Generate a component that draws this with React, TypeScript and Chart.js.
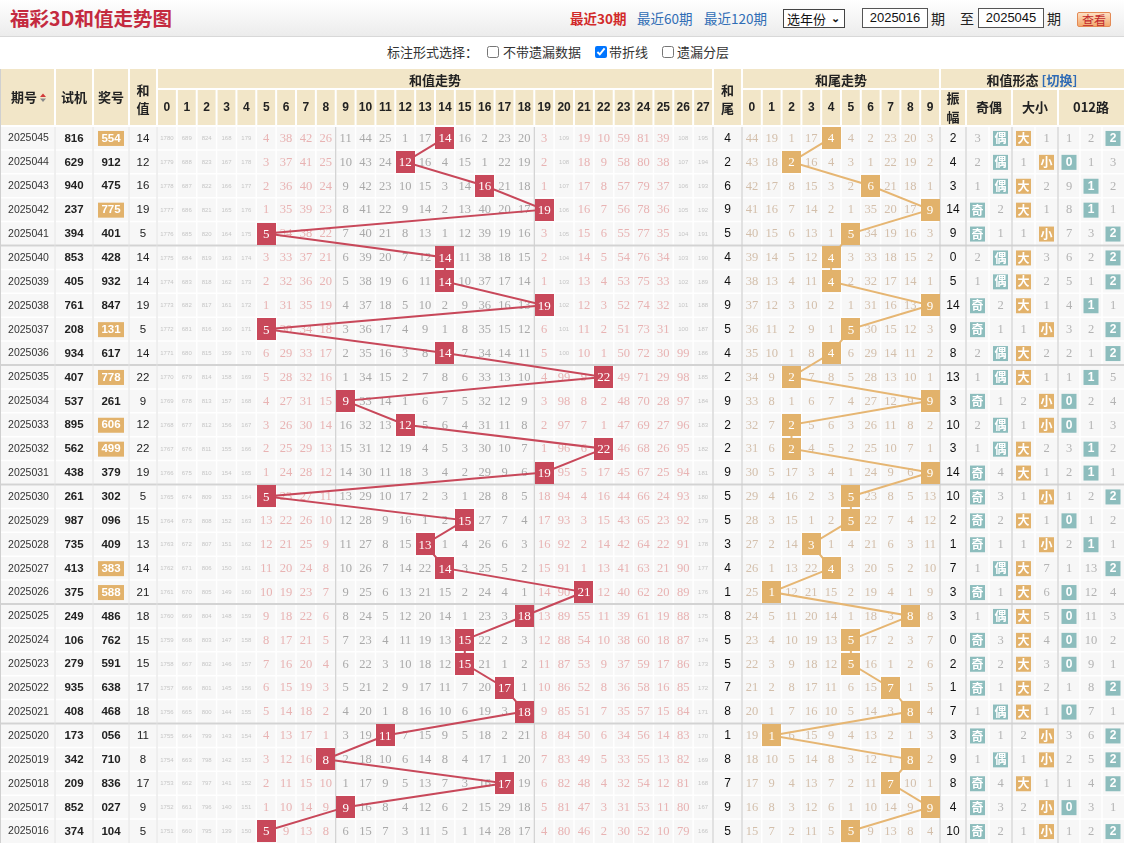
import React, { useEffect, useRef } from "react";
import { Chart, registerables } from "chart.js";

Chart.register(...registerables);

// ---------------- data ----------------
const ISSUES = ["2025045","2025044","2025043","2025042","2025041","2025040","2025039","2025038","2025037","2025036","2025035","2025034","2025033","2025032","2025031","2025030","2025029","2025028","2025027","2025026","2025025","2025024","2025023","2025022","2025021","2025020","2025019","2025018","2025017","2025016"];
const TRIAL_NUMBERS = ["816","629","940","237","394","853","405","761","208","934","407","537","895","562","438","261","987","735","413","375","249","106","279","935","408","173","342","209","852","374"];
const DRAW_NUMBERS = ["554","912","475","775","401","428","932","847","131","617","778","261","606","499","379","302","096","409","383","588","486","762","591","638","468","056","710","836","027","104"];
const SUM_VALUES = [14,12,16,19,5,14,14,19,5,14,22,9,12,22,19,5,15,13,14,21,18,15,15,17,18,11,8,17,9,5];
const SUM_TAILS = [4,2,6,9,5,4,4,9,5,4,2,9,2,2,9,5,5,3,4,1,8,5,5,7,8,1,8,7,9,5];
const AMPLITUDES = [2,4,3,14,9,0,5,14,9,8,13,3,10,3,14,10,2,1,7,3,3,0,2,1,7,3,9,8,4,10];
const SUM_TICKS = ["0","1","2","3","4","5","6","7","8","9","10","11","12","13","14","15","16","17","18","19","20","21","22","23","24","25","26","27"];
const TAIL_TICKS = ["0","1","2","3","4","5","6","7","8","9"];

// omission (遗漏) values per row, 0 = hit
const SUM_MISS = [
  "1780 689 824 168 179 4 38 42 26 11 44 25 1 17 0 16 2 23 20 3 109 19 10 59 81 39 108 195",
  "1779 688 823 167 178 3 37 41 25 10 43 24 0 16 4 15 1 22 19 2 108 18 9 58 80 38 107 194",
  "1778 687 822 166 177 2 36 40 24 9 42 23 10 15 3 14 0 21 18 1 107 17 8 57 79 37 106 193",
  "1777 686 821 165 176 1 35 39 23 8 41 22 9 14 2 13 40 20 17 0 106 16 7 56 78 36 105 192",
  "1776 685 820 164 175 0 34 38 22 7 40 21 8 13 1 12 39 19 16 3 105 15 6 55 77 35 104 191",
  "1775 684 819 163 174 3 33 37 21 6 39 20 7 12 0 11 38 18 15 2 104 14 5 54 76 34 103 190",
  "1774 683 818 162 173 2 32 36 20 5 38 19 6 11 0 10 37 17 14 1 103 13 4 53 75 33 102 189",
  "1773 682 817 161 172 1 31 35 19 4 37 18 5 10 2 9 36 16 13 0 102 12 3 52 74 32 101 188",
  "1772 681 816 160 171 0 30 34 18 3 36 17 4 9 1 8 35 15 12 6 101 11 2 51 73 31 100 187",
  "1771 680 815 159 170 6 29 33 17 2 35 16 3 8 0 7 34 14 11 5 100 10 1 50 72 30 99 186",
  "1770 679 814 158 169 5 28 32 16 1 34 15 2 7 8 6 33 13 10 4 99 9 0 49 71 29 98 185",
  "1769 678 813 157 168 4 27 31 15 0 33 14 1 6 7 5 32 12 9 3 98 8 2 48 70 28 97 184",
  "1768 677 812 156 167 3 26 30 14 16 32 13 0 5 6 4 31 11 8 2 97 7 1 47 69 27 96 183",
  "1767 676 811 155 166 2 25 29 13 15 31 12 19 4 5 3 30 10 7 1 96 6 0 46 68 26 95 182",
  "1766 675 810 154 165 1 24 28 12 14 30 11 18 3 4 2 29 9 6 0 95 5 17 45 67 25 94 181",
  "1765 674 809 153 164 0 23 27 11 13 29 10 17 2 3 1 28 8 5 18 94 4 16 44 66 24 93 180",
  "1764 673 808 152 163 13 22 26 10 12 28 9 16 1 2 0 27 7 4 17 93 3 15 43 65 23 92 179",
  "1763 672 807 151 162 12 21 25 9 11 27 8 15 0 1 4 26 6 3 16 92 2 14 42 64 22 91 178",
  "1762 671 806 150 161 11 20 24 8 10 26 7 14 22 0 3 25 5 2 15 91 1 13 41 63 21 90 177",
  "1761 670 805 149 160 10 19 23 7 9 25 6 13 21 15 2 24 4 1 14 90 0 12 40 62 20 89 176",
  "1760 669 804 148 159 9 18 22 6 8 24 5 12 20 14 1 23 3 0 13 89 55 11 39 61 19 88 175",
  "1759 668 803 147 158 8 17 21 5 7 23 4 11 19 13 0 22 2 3 12 88 54 10 38 60 18 87 174",
  "1758 667 802 146 157 7 16 20 4 6 22 3 10 18 12 0 21 1 2 11 87 53 9 37 59 17 86 173",
  "1757 666 801 145 156 6 15 19 3 5 21 2 9 17 11 7 20 0 1 10 86 52 8 36 58 16 85 172",
  "1756 665 800 144 155 5 14 18 2 4 20 1 8 16 10 6 19 3 0 9 85 51 7 35 57 15 84 171",
  "1755 664 799 143 154 4 13 17 1 3 19 0 7 15 9 5 18 2 21 8 84 50 6 34 56 14 83 170",
  "1754 663 798 142 153 3 12 16 0 2 18 10 6 14 8 4 17 1 20 7 83 49 5 33 55 13 82 169",
  "1753 662 797 141 152 2 11 15 10 1 17 9 5 13 7 3 16 0 19 6 82 48 4 32 54 12 81 168",
  "1752 661 796 140 151 1 10 14 9 0 16 8 4 12 6 2 15 29 18 5 81 47 3 31 53 11 80 167",
  "1751 660 795 139 150 0 9 13 8 6 15 7 3 11 5 1 14 28 17 4 80 46 2 30 52 10 79 166",
];
const TAIL_MISS = [
  "44 19 1 17 0 4 2 23 20 3",
  "43 18 0 16 4 3 1 22 19 2",
  "42 17 8 15 3 2 0 21 18 1",
  "41 16 7 14 2 1 35 20 17 0",
  "40 15 6 13 1 0 34 19 16 3",
  "39 14 5 12 0 3 33 18 15 2",
  "38 13 4 11 0 2 32 17 14 1",
  "37 12 3 10 2 1 31 16 13 0",
  "36 11 2 9 1 0 30 15 12 3",
  "35 10 1 8 0 6 29 14 11 2",
  "34 9 0 7 8 5 28 13 10 1",
  "33 8 1 6 7 4 27 12 9 0",
  "32 7 0 5 6 3 26 11 8 2",
  "31 6 0 4 5 2 25 10 7 1",
  "30 5 17 3 4 1 24 9 6 0",
  "29 4 16 2 3 0 23 8 5 13",
  "28 3 15 1 2 0 22 7 4 12",
  "27 2 14 0 1 4 21 6 3 11",
  "26 1 13 22 0 3 20 5 2 10",
  "25 0 12 21 15 2 19 4 1 9",
  "24 5 11 20 14 1 18 3 0 8",
  "23 4 10 19 13 0 17 2 3 7",
  "22 3 9 18 12 0 16 1 2 6",
  "21 2 8 17 11 6 15 0 1 5",
  "20 1 7 16 10 5 14 3 0 4",
  "19 0 6 15 9 4 13 2 1 3",
  "18 10 5 14 8 3 12 1 0 2",
  "17 9 4 13 7 2 11 0 10 1",
  "16 8 3 12 6 1 10 14 9 0",
  "15 7 2 11 5 0 9 13 8 4",
];
const ODD_MISS = [3,2,1,0,0,2,1,0,0,2,1,0,2,1,0,0,0,0,1,0,1,0,0,0,1,0,1,0,0,0];
const EVEN_MISS = [0,0,0,2,1,0,0,2,1,0,0,1,0,0,4,3,2,1,0,1,0,3,2,1,0,1,0,4,3,2];
const BIG_MISS = [0,1,0,0,1,0,0,0,1,0,0,2,1,0,0,1,0,1,0,0,0,0,0,0,0,2,1,0,2,1];
const SMALL_MISS = [1,0,2,1,0,3,2,1,0,2,1,0,0,2,1,0,1,0,7,6,5,4,3,2,1,0,0,1,0,0];
const MOD0_MISS = [1,0,9,8,7,6,5,4,3,2,1,0,0,3,2,1,0,2,1,0,0,0,0,1,0,3,2,1,0,1];
const MOD1_MISS = [2,1,0,0,3,2,1,0,2,1,0,2,1,0,0,2,1,0,13,12,11,10,9,8,7,6,5,4,3,2];
const MOD2_MISS = [0,3,2,1,0,0,0,1,0,0,5,4,3,2,1,0,2,1,0,4,3,2,1,0,1,0,0,0,1,0];
const SHAPE_LABELS = ["奇","偶","大","小","0","1","2"];

// ---------------- layout / style ----------------
const PAGE_W = 1124;
const CANVAS_TOP = 69;
const CANVAS_H = 774;
const HEAD_SPLIT = 20;
const HEAD_H = 57;
const SUM_LEFT = 157;
const SUM_W = 556;
const TAIL_LEFT = 742;
const TAIL_W = 198;
const SUM_COLOR = "#c8485a";
const TAIL_COLOR = "#e2b26b";
const TEAL = "#8dbdbd";
const HEADER_BG = "#f2e6c8";
const CELL_BG = "#f7f7f7";
const FONT_CN = '"Noto Sans CJK SC", "Noto Sans", sans-serif';
const FONT_SANS = '"Liberation Sans", Arial, sans-serif';
const FONT_SERIF = '"Liberation Serif", "Times New Roman", serif';

const parseRows = (rows: string[]) => rows.map((r) => r.trim().split(/\s+/).map(Number));
const SUM_MISS_TABLE = parseRows(SUM_MISS);
const TAIL_MISS_TABLE = parseRows(TAIL_MISS);
const SHAPE_TABLE = [ODD_MISS, EVEN_MISS, BIG_MISS, SMALL_MISS, MOD0_MISS, MOD1_MISS, MOD2_MISS];
const SHAPE_COLORS = [TEAL, TEAL, TAIL_COLOR, TAIL_COLOR, TEAL, TEAL, TEAL];

const ROW_H = (CANVAS_H - HEAD_H) / ISSUES.length;
const SUM_UNIT = SUM_W / SUM_TICKS.length;
const TAIL_UNIT = TAIL_W / TAIL_TICKS.length;
const XSUM_MIN = -0.5 - SUM_LEFT / SUM_UNIT;
const XTAIL_MIN = -0.5 - TAIL_LEFT / TAIL_UNIT;
const Y_MIN = -0.5 - HEAD_H / ROW_H;

function makeBox(w: number, h: number, color: string) {
  const c = document.createElement("canvas");
  c.width = w;
  c.height = h;
  const g = c.getContext("2d")!;
  g.fillStyle = color;
  g.fillRect(0, 0, w, h);
  return c;
}

const tablePlugin = {
  id: "trendTable",
  beforeDatasetsDraw(chart: any) {
    const ctx: CanvasRenderingContext2D = chart.ctx;
    const W = chart.width;
    const H = chart.height;
    const ys = chart.scales.y;
    const xs = chart.scales.xSum;
    const xt = chart.scales.xTail;
    const n = ISSUES.length;
    const nS = SUM_TICKS.length;
    const nT = TAIL_TICKS.length;
    const rowTop = (i: number) => ys.getPixelForValue(i - 0.5);
    const rowMid = (i: number) => ys.getPixelForValue(i);
    const sEdge = (k: number) => xs.getPixelForValue(k - 0.5);
    const tEdge = (k: number) => xt.getPixelForValue(k - 0.5);
    const head = rowTop(0);
    const split = HEAD_SPLIT;
    const ampL = tEdge(nT);
    const ampR = ampL + 26;
    const oddR = ampR + 46;
    const bigR = oddR + 46;
    const shapeCols: [number, number][] = [
      [ampR, ampR + 23], [ampR + 23, oddR], [oddR, oddR + 23], [oddR + 23, bigR],
      [bigR, bigR + 22], [bigR + 22, bigR + 44], [bigR + 44, W],
    ];

    const vline = (x: number, y0: number, y1: number, color: string, lw: number) => {
      ctx.strokeStyle = color; ctx.lineWidth = lw; ctx.beginPath(); ctx.moveTo(x, y0); ctx.lineTo(x, y1); ctx.stroke();
    };
    const hline = (y: number, x0: number, x1: number, color: string, lw: number) => {
      ctx.strokeStyle = color; ctx.lineWidth = lw; ctx.beginPath(); ctx.moveTo(x0, y); ctx.lineTo(x1, y); ctx.stroke();
    };
    const text = (s: string, x: number, y: number, font: string, color: string) => {
      ctx.font = font; ctx.fillStyle = color; ctx.fillText(s, x, y);
    };

    ctx.save();
    ctx.fillStyle = "#ffffff";
    ctx.fillRect(0, 0, W, H);
    ctx.fillStyle = HEADER_BG;
    ctx.fillRect(0, 0, W, head);
    ctx.fillStyle = CELL_BG;
    ctx.fillRect(0, head, W, H - head);

    // header separators
    [55, 93, 129, sEdge(0), sEdge(nS), tEdge(0), tEdge(nT)].forEach((x) => vline(x, 0, head, "#fff", 2));
    for (let k = 1; k < nS; k++) vline(sEdge(k), split, head, "#fff", 2);
    for (let k = 1; k < nT; k++) vline(tEdge(k), split, head, "#fff", 2);
    [ampR, oddR, bigR].forEach((x) => vline(x, split, head, "#fff", 2));
    hline(split, sEdge(0), sEdge(nS), "#fff", 2);
    hline(split, tEdge(0), W, "#fff", 2);

    // data grid
    for (let i = 1; i < n; i++) hline(rowTop(i), 0, W, "#fff", 1.5);
    const dataV: number[] = [55, 93, 129];
    for (let k = 0; k <= nS; k++) dataV.push(sEdge(k));
    for (let k = 0; k <= nT; k++) dataV.push(tEdge(k));
    shapeCols.forEach((c) => dataV.push(c[0]));
    dataV.forEach((x) => vline(x, head, H, "#fff", 1.5));
    for (let i = 5; i < n; i += 5) hline(rowTop(i), 0, W, "#d3d3d3", 2);
    [sEdge(9), sEdge(19), sEdge(nS), tEdge(0), ampL, ampR, oddR, bigR].forEach((x) => vline(x, head, H, "#cfcfcf", 1.2));
    [55, 93, 129, sEdge(0)].forEach((x) => vline(x, head, H, "#e0e0e0", 1));
    hline(head, 0, W, "#fff", 2);
    vline(0.5, 0, H, "#d0d0d0", 1);

    ctx.textAlign = "center";
    ctx.textBaseline = "middle";

    // header texts
    const hb = `bold 13px ${FONT_CN}`;
    const hm = head / 2;
    text("期号", 24, hm, hb, "#222");
    ctx.fillStyle = "#d23a3a";
    ctx.beginPath(); ctx.moveTo(40, 28); ctx.lineTo(46, 28); ctx.lineTo(43, 24.5); ctx.closePath(); ctx.fill();
    ctx.fillStyle = "#888";
    ctx.beginPath(); ctx.moveTo(40, 29.5); ctx.lineTo(46, 29.5); ctx.lineTo(43, 33); ctx.closePath(); ctx.fill();
    text("试机", 74, hm, hb, "#222");
    text("奖号", 111, hm, hb, "#222");
    text("和", 143, 21, hb, "#222");
    text("值", 143, 39, hb, "#222");
    const tailColX = (sEdge(nS) + tEdge(0)) / 2;
    text("和", tailColX, 21, hb, "#222");
    text("尾", tailColX, 39, hb, "#222");
    text("和值走势", (sEdge(0) + sEdge(nS)) / 2, split / 2 + 1, hb, "#222");
    text("和尾走势", (tEdge(0) + tEdge(nT)) / 2, split / 2 + 1, hb, "#222");
    ctx.font = hb;
    const a = "和值形态 ";
    const b = "[切换]";
    const wa = ctx.measureText(a).width;
    const wb = ctx.measureText(b).width;
    const cx = (ampL + W) / 2 - (wa + wb) / 2;
    ctx.textAlign = "left";
    text(a, cx, split / 2 + 1, hb, "#222");
    text(b, cx + wa, split / 2 + 1, hb, "#2f6bb5");
    ctx.textAlign = "center";
    const r2 = (split + head) / 2;
    const digitFont = `bold 12px ${FONT_SANS}`;
    SUM_TICKS.forEach((t, k) => text(t, xs.getPixelForValue(k), r2, digitFont, "#222"));
    TAIL_TICKS.forEach((t, k) => text(t, xt.getPixelForValue(k), r2, digitFont, "#222"));
    text("振", (ampL + ampR) / 2, 29.5, hb, "#222");
    text("幅", (ampL + ampR) / 2, 48.5, hb, "#222");
    text("奇偶", (ampR + oddR) / 2, r2, hb, "#222");
    text("大小", (oddR + bigR) / 2, r2, hb, "#222");
    text("012路", (bigR + W) / 2, r2, hb, "#222");

    // data rows
    for (let i = 0; i < n; i++) {
      const y = rowMid(i) + 0.5;
      text(ISSUES[i], 28.5, y, `10.5px ${FONT_SANS}`, "#333");
      text(TRIAL_NUMBERS[i], 74, y, `bold 11.5px ${FONT_SANS}`, "#222");
      const d = DRAW_NUMBERS[i];
      const isPair = new Set(d.split("")).size === 2;
      if (isPair) {
        ctx.fillStyle = TAIL_COLOR;
        ctx.fillRect(111 - 13, y - 7.5, 26, 15);
        text(d, 111, y, `bold 11.5px ${FONT_SANS}`, "#fff");
      } else {
        text(d, 111, y, `bold 11.5px ${FONT_SANS}`, "#222");
      }
      text(String(SUM_VALUES[i]), 143, y, `11.5px ${FONT_SANS}`, "#222");
      text(String(SUM_TAILS[i]), tailColX, y, `12px ${FONT_SANS}`, "#111");
      text(String(AMPLITUDES[i]), (ampL + ampR) / 2, y, `12px ${FONT_SANS}`, "#111");

      SUM_MISS_TABLE[i].forEach((v, k) => {
        if (v === 0) return;
        const x = xs.getPixelForValue(k);
        if (v >= 100) {
          text(String(v), x, y, `6px ${FONT_SANS}`, "#c6c6c6");
        } else {
          const hot = k >= 9 && k <= 18;
          text(String(v), x, y, `12.5px ${FONT_SERIF}`, hot ? "#a9a9a9" : "#e8b3b3");
        }
      });
      TAIL_MISS_TABLE[i].forEach((v, k) => {
        if (v === 0) return;
        text(String(v), xt.getPixelForValue(k), y, `12.5px ${FONT_SERIF}`, "#d3bfab");
      });
      SHAPE_TABLE.forEach((arr, c) => {
        const [l, r] = shapeCols[c];
        const x = (l + r) / 2;
        const v = arr[i];
        if (v === 0) {
          ctx.fillStyle = SHAPE_COLORS[c];
          ctx.fillRect(x - 7.5, y - 7.5, 15, 15);
          const f = c < 4 ? `bold 12px ${FONT_CN}` : `bold 12px ${FONT_SANS}`;
          text(SHAPE_LABELS[c], x, y, f, "#fff");
        } else {
          text(String(v), x, y, `12.5px ${FONT_SERIF}`, "#b3b3b3");
        }
      });
    }
    ctx.restore();
  },
  afterDatasetsDraw(chart: any) {
    const ctx: CanvasRenderingContext2D = chart.ctx;
    ctx.save();
    ctx.textAlign = "center";
    ctx.textBaseline = "middle";
    ctx.fillStyle = "#fff";
    ctx.font = `13px ${FONT_SERIF}`;
    [SUM_VALUES, SUM_TAILS].forEach((vals, di) => {
      const meta = chart.getDatasetMeta(di);
      meta.data.forEach((pt: any, i: number) => {
        ctx.fillText(String(vals[i]), pt.x, pt.y + 1);
      });
    });
    ctx.restore();
  },
};

export default function App() {
  const ref = useRef<HTMLCanvasElement>(null);
  useEffect(() => {
    if (!ref.current) return;
    const sumBox = makeBox(19, 22, SUM_COLOR);
    const tailBox = makeBox(19, 22, TAIL_COLOR);
    const chart = new Chart(ref.current, {
      type: "line",
      data: {
        datasets: [
          {
            label: "和值",
            data: SUM_VALUES.map((s, i) => ({ x: s, y: i })),
            xAxisID: "xSum",
            yAxisID: "y",
            borderColor: SUM_COLOR,
            borderWidth: 2,
            pointStyle: sumBox as any,
            pointRadius: 10,
            tension: 0,
            fill: false,
          },
          {
            label: "和尾",
            data: SUM_TAILS.map((t, i) => ({ x: t, y: i })),
            xAxisID: "xTail",
            yAxisID: "y",
            borderColor: "#e6b673",
            borderWidth: 2,
            pointStyle: tailBox as any,
            pointRadius: 10,
            tension: 0,
            fill: false,
          },
        ],
      },
      options: {
        animation: false,
        responsive: false,
        maintainAspectRatio: false,
        events: [],
        layout: { padding: 0, autoPadding: false },
        plugins: { legend: { display: false }, tooltip: { enabled: false } },
        scales: {
          xSum: { type: "linear", display: false, min: XSUM_MIN, max: XSUM_MIN + PAGE_W / SUM_UNIT },
          xTail: { type: "linear", display: false, min: XTAIL_MIN, max: XTAIL_MIN + PAGE_W / TAIL_UNIT },
          y: { type: "linear", display: false, reverse: true, min: Y_MIN, max: Y_MIN + CANVAS_H / ROW_H },
        },
      } as any,
      plugins: [tablePlugin],
    });
    return () => chart.destroy();
  }, []);

  const abs = (l: number, t: number, extra: React.CSSProperties = {}): React.CSSProperties => ({
    position: "absolute", left: l, top: t, whiteSpace: "nowrap", ...extra,
  });
  const boxStyle: React.CSSProperties = {
    border: "1px solid #555", background: "#fff", fontSize: 13, lineHeight: "17px",
    textAlign: "center", fontFamily: FONT_SANS, color: "#111", boxSizing: "border-box",
  };

  return (
    <div style={{ position: "absolute", left: 0, top: 0, width: PAGE_W, height: 843, background: "#fff", overflow: "hidden", fontFamily: FONT_CN }}>
      <div style={{ position: "absolute", left: 0, top: 0, width: PAGE_W, height: 36, background: "linear-gradient(#ffffff, #ececec)", borderBottom: "1px solid #d8d8d8" }} />
      <div style={abs(10, 7, { fontSize: 19.5, fontWeight: 700, color: "#c42a3f", lineHeight: "21px" })}>福彩3D和值走势图</div>
      <div style={abs(570, 10, { fontSize: 13.5, fontWeight: 700, color: "#d22a2a", lineHeight: "16px" })}>最近30期</div>
      <div style={abs(637, 10, { fontSize: 13.5, color: "#2f6db5", lineHeight: "16px" })}>最近60期</div>
      <div style={abs(704, 10, { fontSize: 13.5, color: "#2f6db5", lineHeight: "16px" })}>最近120期</div>
      <div style={abs(783, 9, { ...boxStyle, width: 62, height: 19, textAlign: "left", paddingLeft: 3, fontFamily: FONT_CN, fontSize: 13, border: "1px solid #444" })}>
        选年份<span style={{ position: "absolute", right: 4, top: -1, fontSize: 11, fontWeight: 700 }}>⌄</span>
      </div>
      <div style={abs(862, 8, { ...boxStyle, width: 66, height: 20 })}>2025016</div>
      <div style={abs(931, 9, { fontSize: 14, lineHeight: "18px", color: "#222" })}>期</div>
      <div style={abs(960, 9, { fontSize: 14, lineHeight: "18px", color: "#222" })}>至</div>
      <div style={abs(978, 8, { ...boxStyle, width: 66, height: 20 })}>2025045</div>
      <div style={abs(1047, 9, { fontSize: 14, lineHeight: "18px", color: "#222" })}>期</div>
      <div style={abs(1077, 12, { width: 34, height: 15, boxSizing: "border-box", background: "linear-gradient(#fde0c4, #f3a86c)", border: "1px solid #e48a55", borderRadius: 2, fontSize: 12, lineHeight: "13px", textAlign: "center", color: "#c2282c" })}>查看</div>

      <div style={abs(387, 44, { fontSize: 13, lineHeight: "16px", color: "#333" })}>标注形式选择：</div>
      <input type="checkbox" readOnly style={abs(487, 46, { margin: 0, width: 12, height: 12 })} />
      <div style={abs(503, 44, { fontSize: 13, lineHeight: "16px", color: "#333" })}>不带遗漏数据</div>
      <input type="checkbox" defaultChecked style={abs(595, 46, { margin: 0, width: 12, height: 12 })} />
      <div style={abs(609, 44, { fontSize: 13, lineHeight: "16px", color: "#333" })}>带折线</div>
      <input type="checkbox" readOnly style={abs(662, 46, { margin: 0, width: 12, height: 12 })} />
      <div style={abs(677, 44, { fontSize: 13, lineHeight: "16px", color: "#333" })}>遗漏分层</div>

      <canvas ref={ref} width={PAGE_W} height={CANVAS_H} style={{ position: "absolute", left: 0, top: CANVAS_TOP, display: "block" }} />
    </div>
  );
}
